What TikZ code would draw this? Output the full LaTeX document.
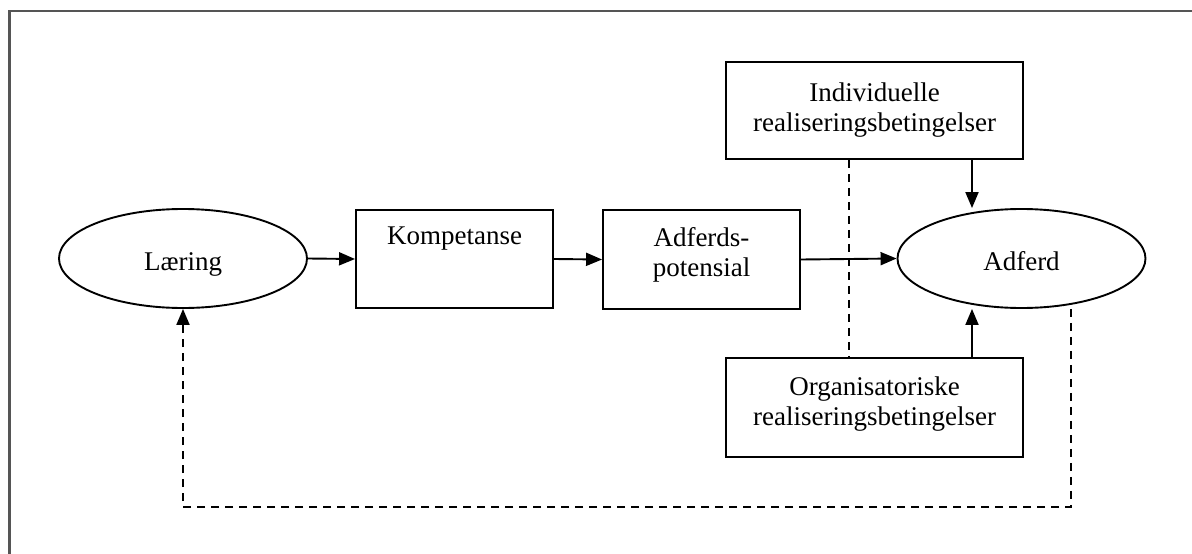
\documentclass[tikz,border=0pt]{standalone}
\usepackage{fontspec}
\setmainfont{Liberation Serif}
\usetikzlibrary{arrows.meta,shapes.geometric}
\definecolor{framegray}{HTML}{555555}
\tikzset{
  txt/.style={font=\fontsize{27}{30}\selectfont, text=black},
  boxnode/.style={txt, draw=black, line width=1.9pt, rectangle, inner sep=0pt, align=center},
  ellnode/.style={txt, draw=black, line width=1.9pt, ellipse, inner sep=0pt, minimum width=248pt, minimum height=99pt, text height=27pt, text depth=3pt},
  arr/.style={line width=1.9pt, -{Triangle[length=16pt,width=13pt]}},
  dsh/.style={line width=1.9pt, dash pattern=on 8pt off 6pt},
}
\begin{document}
\begin{tikzpicture}[x=1pt,y=-1pt]
\useasboundingbox (0,0) rectangle (1192,554);
\clip (0,0) rectangle (1192,554);
\draw[framegray, line width=2.5pt] (9.5,11) rectangle (1220,600);

\node[ellnode] (lae) at (183,258.5) {Læring\hspace{24pt}};
\node[boxnode, minimum width=197pt, minimum height=98pt] (komp) at (454.5,259) {Kompetanse\\\rule[-16pt]{0pt}{16pt}};
\node[boxnode, minimum width=197pt, minimum height=99pt] (adp) at (701.5,259.5) {Adferds-\\potensial\rule[-16pt]{0pt}{16pt}};
\node[ellnode] (adf) at (1021.5,258.5) {Adferd\hspace{24pt}};
\node[boxnode, minimum width=297pt, minimum height=97pt] (ind) at (874.5,110.5) {Individuelle\\realiseringsbetingelser};
\node[boxnode, minimum width=297pt, minimum height=99pt] (org) at (874.5,407.5) {Organisatoriske\\realiseringsbetingelser\rule[-13pt]{0pt}{13pt}};

\coordinate (cx) at (972,0);
\coordinate (dx) at (849,0);
\coordinate (fb) at (1071,507);

\draw[arr] (lae.east) -- (komp.west);
\draw[arr] (komp.east) -- (adp.west);
\draw[dsh] (ind.south -| dx) -- (org.north -| dx);
\draw[arr] (adp.east) -- (adf.west);
\draw[arr] (ind.south -| cx) -- (adf.north -| cx);
\draw[arr] (org.north -| cx) -- (adf.south -| cx);
\draw[dsh, arr] (adf.south -| fb) -- (fb) -| (lae.south);
\end{tikzpicture}
\end{document}
